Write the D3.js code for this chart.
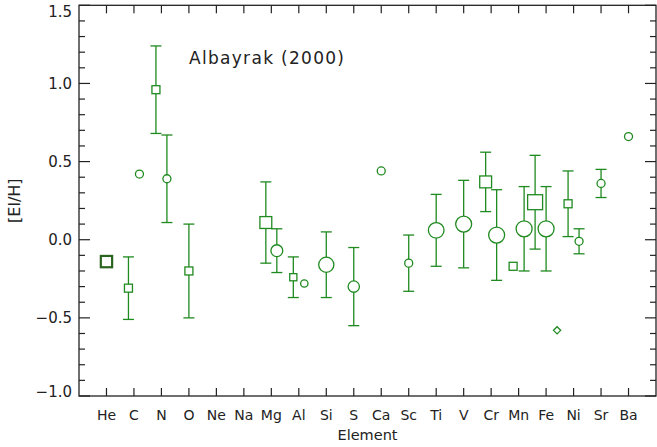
<!DOCTYPE html>
<meta charset="utf-8">

<style>
  body { margin: 0; background: #fff; }
  svg { display: block; }
  text { font-family: "DejaVu Sans", sans-serif; fill: #222; }
  .frame { fill: none; stroke: #222; stroke-width: 1.3px; }
  .tick { stroke: #222; stroke-width: 1.2px; }
  .err { stroke: #1f8a1f; stroke-width: 1.3px; fill: none; }
  .mark { stroke: #1f8a1f; stroke-width: 1.3px; fill: none; }
  .mark.heavy { stroke: #2b6420; stroke-width: 2.2px; }
</style>

<body>
  <script src="https://cdn.jsdelivr.net/npm/d3@7"></script>
  <script>

    // element categories along x
    var elements = ["He", "C", "N", "O", "Ne", "Na", "Mg", "Al", "Si", "S",
                    "Ca", "Sc", "Ti", "V", "Cr", "Mn", "Fe", "Ni", "Sr", "Ba"];

    // one entry per plotted point
    var ptElement = ["He", "C", "C", "N", "N", "O", "Mg", "Mg", "Al", "Al",
                     "Si", "S", "Ca", "Sc", "Ti", "V", "Cr", "Cr", "Mn", "Mn",
                     "Fe", "Fe", "Fe", "Ni", "Ni", "Sr", "Ba"];
    // s = square, c = circle, d = diamond, S = heavy square
    var ptSymbol  = ["S", "s", "c", "s", "c", "s", "s", "c", "s", "c",
                     "c", "c", "c", "c", "c", "c", "s", "c", "s", "c",
                     "s", "c", "d", "s", "c", "c", "c"];
    var ptValue   = [-0.14, -0.31, 0.42, 0.96, 0.39, -0.20, 0.11, -0.07, -0.24, -0.28,
                     -0.16, -0.30, 0.44, -0.15, 0.06, 0.10, 0.37, 0.03, -0.17, 0.07,
                     0.24, 0.07, -0.58, 0.23, -0.01, 0.36, 0.66];
    // error bar ends (null = no bar)
    var ptHigh    = [null, -0.11, null, 1.24, 0.67, 0.10, 0.37, 0.07, -0.11, null,
                     0.05, -0.05, null, 0.03, 0.29, 0.38, 0.56, 0.32, null, 0.34,
                     0.54, 0.34, null, 0.44, 0.07, 0.45, null];
    var ptLow     = [null, -0.51, null, 0.68, 0.11, -0.50, -0.15, -0.21, -0.37, null,
                     -0.37, -0.55, null, -0.33, -0.17, -0.18, 0.18, -0.26, null, -0.20,
                     -0.06, -0.20, null, 0.02, -0.09, 0.27, null];
    // weight of each point (drawn as marker size)
    var ptWeight  = [2, 1, 1, 1, 1, 1, 2.2, 2.2, 0.8, 0.85,
                     3.6, 2, 1, 1, 3.8, 4, 2.2, 4, 1, 4,
                     3.5, 4, 0.8, 1, 1, 1, 1];

    var yTicks = [-1.0, -0.5, 0.0, 0.5, 1.0, 1.5];

    var width = 657, height = 447;
    var pLeft = 79, pRight = 656, pTop = 5.3, pBottom = 396;

    var svg = d3.select("body").append("svg")
      .attr("width", width)
      .attr("height", height);

    var x = d3.scaleLinear().domain([-1, elements.length]).range([pLeft, pRight]);
    var y = d3.scaleLinear().domain([-1.0, 1.5]).range([pBottom, pTop]);
    var size = d3.scaleSqrt().domain([0, 1]).range([0, 4]);

    var points = ptElement.map(function(e, i) {
      return { el: e, sym: ptSymbol[i], val: ptValue[i], hi: ptHigh[i], lo: ptLow[i], w: ptWeight[i] };
    });
    // spread points that share an element
    var groups = d3.group(points, function(d) { return d.el; });
    groups.forEach(function(list) {
      var sub = d3.scalePoint().domain(d3.range(list.length)).range([0, (list.length - 1) * 0.4]);
      list.forEach(function(d, j) {
        d.xi = elements.indexOf(d.el) + sub(j) - (list.length - 1) * 0.2;
      });
    });

    // frame
    svg.append("rect")
      .attr("class", "frame")
      .attr("x", pLeft).attr("y", pTop)
      .attr("width", pRight - pLeft).attr("height", pBottom - pTop);

    // y ticks, left and right
    var minor = d3.range(-1.0, 1.5001, 0.1);
    minor.forEach(function(v) {
      var major = Math.abs(v * 2 - Math.round(v * 2)) < 1e-6;
      var len = major ? 11 : 6;
      svg.append("line").attr("class", "tick")
        .attr("x1", pLeft).attr("x2", pLeft + len)
        .attr("y1", y(v)).attr("y2", y(v));
      svg.append("line").attr("class", "tick")
        .attr("x1", pRight).attr("x2", pRight - len)
        .attr("y1", y(v)).attr("y2", y(v));
    });

    // labels kept inside the window at the ends
    svg.selectAll(".ylab").data(yTicks).enter().append("text")
      .attr("class", "ylab")
      .attr("x", pLeft - 7)
      .attr("y", function(d) { return Math.min(Math.max(y(d), 12), pBottom - 4); })
      .attr("dy", "0.36em")
      .attr("text-anchor", "end")
      .style("font-size", "15px")
      .text(function(d) { return d3.format(".1f")(d).replace("-", "\u2212"); });

    // x ticks, bottom and top
    elements.forEach(function(e, i) {
      svg.append("line").attr("class", "tick")
        .attr("x1", x(i)).attr("x2", x(i))
        .attr("y1", pBottom).attr("y2", pBottom - 8);
      svg.append("line").attr("class", "tick")
        .attr("x1", x(i)).attr("x2", x(i))
        .attr("y1", pTop).attr("y2", pTop + 8);
    });

    svg.selectAll(".xlab").data(elements).enter().append("text")
      .attr("class", "xlab")
      .attr("x", function(d, i) { return x(i); })
      .attr("y", 420)
      .attr("text-anchor", "middle")
      .style("font-size", "14px")
      .text(function(d) { return d; });

    svg.append("text")
      .attr("x", (pLeft + pRight) / 2)
      .attr("y", 440)
      .attr("text-anchor", "middle")
      .style("font-size", "14.5px")
      .text("Element");

    svg.append("text")
      .attr("transform", "translate(20," + ((pTop + pBottom) / 2) + ") rotate(-90)")
      .attr("text-anchor", "middle")
      .style("font-size", "16px")
      .text("[El/H]");

    svg.append("text")
      .attr("x", 189)
      .attr("y", 64)
      .style("font-size", "17px")
      .style("letter-spacing", "1.3px")
      .text("Albayrak (2000)");

    // error bars
    var withErr = points.filter(function(d) { return d.hi !== null; });
    var eg = svg.append("g");
    withErr.forEach(function(d) {
      var cx = x(d.xi);
      eg.append("line").attr("class", "err")
        .attr("x1", cx).attr("x2", cx).attr("y1", y(d.hi)).attr("y2", y(d.lo));
      [d.hi, d.lo].forEach(function(v) {
        eg.append("line").attr("class", "err")
          .attr("x1", cx - 5.5).attr("x2", cx + 5.5).attr("y1", y(v)).attr("y2", y(v));
      });
    });

    // markers
    var mg = svg.append("g");
    points.forEach(function(d) {
      var cx = x(d.xi), cy = y(d.val), r = size(d.w);
      if (d.sym === "c") {
        mg.append("circle").attr("class", "mark")
          .attr("cx", cx).attr("cy", cy).attr("r", r)
          .style("fill", "#fff");
      } else if (d.sym === "d") {
        mg.append("path").attr("class", "mark")
          .attr("d", "M" + cx + "," + (cy - r) + "L" + (cx + r) + "," + cy +
                     "L" + cx + "," + (cy + r) + "L" + (cx - r) + "," + cy + "Z")
          .style("fill", "#fff");
      } else {
        mg.append("rect").attr("class", d.sym === "S" ? "mark heavy" : "mark")
          .attr("x", cx - r).attr("y", cy - r)
          .attr("width", 2 * r).attr("height", 2 * r)
          .style("fill", "#fff");
      }
    });

  </script>
</body>
